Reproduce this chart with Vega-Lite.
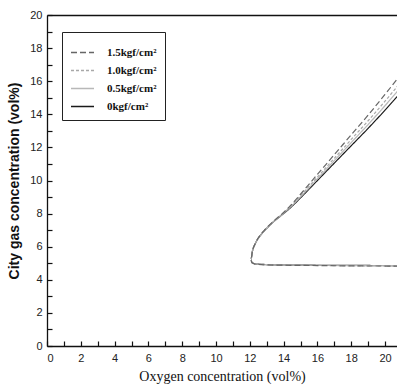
{
  "$schema": "https://vega.github.io/schema/vega-lite/v6.json",
  "autosize": {"type": "none"},
  "padding": {"left": 47, "top": 15, "right": 0, "bottom": 43},
  "width": 350,
  "height": 331,
  "background": "white",
  "config": {
    "view": {"stroke": null},
    "axis": {"domainColor": "#111", "domainWidth": 1.3, "tickColor": "#111", "tickWidth": 1.2, "grid": false,
             "labelFont": "Liberation Sans", "labelFontSize": 11, "labelColor": "#222", "labelOverlap": false}
  },
  "data": {"values": [
    {"p": "0kgf/cm²", "i": 1, "o": 21, "c": 15.4},
    {"p": "0kgf/cm²", "i": 2, "o": 20.7, "c": 15.05},
    {"p": "0kgf/cm²", "i": 3, "o": 20, "c": 14.25},
    {"p": "0kgf/cm²", "i": 4, "o": 19, "c": 13.15},
    {"p": "0kgf/cm²", "i": 5, "o": 18, "c": 12.1},
    {"p": "0kgf/cm²", "i": 6, "o": 17, "c": 11.05},
    {"p": "0kgf/cm²", "i": 7, "o": 16, "c": 10.0},
    {"p": "0kgf/cm²", "i": 8, "o": 15, "c": 8.95},
    {"p": "0kgf/cm²", "i": 9, "o": 14.4, "c": 8.35},
    {"p": "0kgf/cm²", "i": 10, "o": 14, "c": 8.0},
    {"p": "0kgf/cm²", "i": 11, "o": 13.4, "c": 7.5},
    {"p": "0kgf/cm²", "i": 12, "o": 12.9, "c": 7.0},
    {"p": "0kgf/cm²", "i": 13, "o": 12.6, "c": 6.65},
    {"p": "0kgf/cm²", "i": 14, "o": 12.33, "c": 6.2},
    {"p": "0kgf/cm²", "i": 15, "o": 12.15, "c": 5.7},
    {"p": "0kgf/cm²", "i": 16, "o": 12.07, "c": 5.24},
    {"p": "0kgf/cm²", "i": 17, "o": 12.12, "c": 5.05},
    {"p": "0kgf/cm²", "i": 18, "o": 12.35, "c": 4.96},
    {"p": "0kgf/cm²", "i": 19, "o": 13, "c": 4.92},
    {"p": "0kgf/cm²", "i": 20, "o": 14, "c": 4.9},
    {"p": "0kgf/cm²", "i": 21, "o": 16, "c": 4.88},
    {"p": "0kgf/cm²", "i": 22, "o": 18, "c": 4.87},
    {"p": "0kgf/cm²", "i": 23, "o": 21, "c": 4.86},

    {"p": "0.5kgf/cm²", "i": 1, "o": 21, "c": 15.71},
    {"p": "0.5kgf/cm²", "i": 2, "o": 20.7, "c": 15.35},
    {"p": "0.5kgf/cm²", "i": 3, "o": 20, "c": 14.52},
    {"p": "0.5kgf/cm²", "i": 4, "o": 19, "c": 13.38},
    {"p": "0.5kgf/cm²", "i": 5, "o": 18, "c": 12.29},
    {"p": "0.5kgf/cm²", "i": 6, "o": 17, "c": 11.2},
    {"p": "0.5kgf/cm²", "i": 7, "o": 16, "c": 10.1},
    {"p": "0.5kgf/cm²", "i": 8, "o": 15, "c": 9.01},
    {"p": "0.5kgf/cm²", "i": 9, "o": 14.4, "c": 8.39},
    {"p": "0.5kgf/cm²", "i": 10, "o": 14, "c": 8.02},
    {"p": "0.5kgf/cm²", "i": 11, "o": 13.4, "c": 7.5},
    {"p": "0.5kgf/cm²", "i": 12, "o": 12.9, "c": 7.0},
    {"p": "0.5kgf/cm²", "i": 13, "o": 12.6, "c": 6.65},
    {"p": "0.5kgf/cm²", "i": 14, "o": 12.33, "c": 6.2},
    {"p": "0.5kgf/cm²", "i": 15, "o": 12.15, "c": 5.7},
    {"p": "0.5kgf/cm²", "i": 16, "o": 12.07, "c": 5.24},
    {"p": "0.5kgf/cm²", "i": 17, "o": 12.12, "c": 5.05},
    {"p": "0.5kgf/cm²", "i": 18, "o": 12.35, "c": 4.96},
    {"p": "0.5kgf/cm²", "i": 19, "o": 13, "c": 4.92},
    {"p": "0.5kgf/cm²", "i": 20, "o": 14, "c": 4.9},
    {"p": "0.5kgf/cm²", "i": 21, "o": 16, "c": 4.88},
    {"p": "0.5kgf/cm²", "i": 22, "o": 18, "c": 4.86},
    {"p": "0.5kgf/cm²", "i": 23, "o": 21, "c": 4.85},

    {"p": "1.0kgf/cm²", "i": 1, "o": 21, "c": 16.02},
    {"p": "1.0kgf/cm²", "i": 2, "o": 20.7, "c": 15.65},
    {"p": "1.0kgf/cm²", "i": 3, "o": 20, "c": 14.79},
    {"p": "1.0kgf/cm²", "i": 4, "o": 19, "c": 13.61},
    {"p": "1.0kgf/cm²", "i": 5, "o": 18, "c": 12.48},
    {"p": "1.0kgf/cm²", "i": 6, "o": 17, "c": 11.34},
    {"p": "1.0kgf/cm²", "i": 7, "o": 16, "c": 10.21},
    {"p": "1.0kgf/cm²", "i": 8, "o": 15, "c": 9.08},
    {"p": "1.0kgf/cm²", "i": 9, "o": 14.4, "c": 8.43},
    {"p": "1.0kgf/cm²", "i": 10, "o": 14, "c": 8.04},
    {"p": "1.0kgf/cm²", "i": 11, "o": 13.4, "c": 7.52},
    {"p": "1.0kgf/cm²", "i": 12, "o": 12.9, "c": 7.02},
    {"p": "1.0kgf/cm²", "i": 13, "o": 12.6, "c": 6.66},
    {"p": "1.0kgf/cm²", "i": 14, "o": 12.33, "c": 6.2},
    {"p": "1.0kgf/cm²", "i": 15, "o": 12.15, "c": 5.7},
    {"p": "1.0kgf/cm²", "i": 16, "o": 12.07, "c": 5.24},
    {"p": "1.0kgf/cm²", "i": 17, "o": 12.12, "c": 5.05},
    {"p": "1.0kgf/cm²", "i": 18, "o": 12.35, "c": 4.96},
    {"p": "1.0kgf/cm²", "i": 19, "o": 13, "c": 4.91},
    {"p": "1.0kgf/cm²", "i": 20, "o": 14, "c": 4.89},
    {"p": "1.0kgf/cm²", "i": 21, "o": 16, "c": 4.87},
    {"p": "1.0kgf/cm²", "i": 22, "o": 18, "c": 4.85},
    {"p": "1.0kgf/cm²", "i": 23, "o": 21, "c": 4.84},

    {"p": "1.5kgf/cm²", "i": 1, "o": 21, "c": 16.49},
    {"p": "1.5kgf/cm²", "i": 2, "o": 20.7, "c": 16.1},
    {"p": "1.5kgf/cm²", "i": 3, "o": 20, "c": 15.2},
    {"p": "1.5kgf/cm²", "i": 4, "o": 19, "c": 13.95},
    {"p": "1.5kgf/cm²", "i": 5, "o": 18, "c": 12.76},
    {"p": "1.5kgf/cm²", "i": 6, "o": 17, "c": 11.56},
    {"p": "1.5kgf/cm²", "i": 7, "o": 16, "c": 10.37},
    {"p": "1.5kgf/cm²", "i": 8, "o": 15, "c": 9.17},
    {"p": "1.5kgf/cm²", "i": 9, "o": 14.4, "c": 8.48},
    {"p": "1.5kgf/cm²", "i": 10, "o": 14, "c": 8.07},
    {"p": "1.5kgf/cm²", "i": 11, "o": 13.4, "c": 7.54},
    {"p": "1.5kgf/cm²", "i": 12, "o": 12.9, "c": 7.04},
    {"p": "1.5kgf/cm²", "i": 13, "o": 12.6, "c": 6.67},
    {"p": "1.5kgf/cm²", "i": 14, "o": 12.33, "c": 6.21},
    {"p": "1.5kgf/cm²", "i": 15, "o": 12.15, "c": 5.7},
    {"p": "1.5kgf/cm²", "i": 16, "o": 12.07, "c": 5.24},
    {"p": "1.5kgf/cm²", "i": 17, "o": 12.12, "c": 5.05},
    {"p": "1.5kgf/cm²", "i": 18, "o": 12.35, "c": 4.95},
    {"p": "1.5kgf/cm²", "i": 19, "o": 13, "c": 4.9},
    {"p": "1.5kgf/cm²", "i": 20, "o": 14, "c": 4.88},
    {"p": "1.5kgf/cm²", "i": 21, "o": 16, "c": 4.86},
    {"p": "1.5kgf/cm²", "i": 22, "o": 18, "c": 4.84},
    {"p": "1.5kgf/cm²", "i": 23, "o": 21, "c": 4.83}
  ]},
  "layer": [
    {
      "mark": {"type": "line", "clip": true, "strokeWidth": 1.2, "interpolate": "monotone"},
      "encoding": {
        "x": {"field": "o", "type": "quantitative", "scale": {"domain": [0, 20.71], "nice": false, "zero": false},
              "axis": {"title": "Oxygen concentration (vol%)", "titleFont": "Liberation Serif", "titleFontSize": 14, "titleFontWeight": "normal", "titleColor": "#111", "titlePadding": 6,
                       "values": [0,1,2,3,4,5,6,7,8,9,10,11,12,13,14,15,16,17,18,19,20],
                       "labelExpr": "datum.value % 2 ? '' : datum.label", "ticks": true, "tickSize": -5, "labelPadding": 11,
                       "encode": {"ticks": {"update": {"y2": {"signal": "datum.value % 2 ? -3 : -5"}}}}}},
        "y": {"field": "c", "type": "quantitative", "scale": {"domain": [0, 20], "nice": false},
              "axis": {"title": "City gas concentration (vol%)", "titleFont": "Liberation Sans", "titleFontSize": 14, "titleFontWeight": "bold", "titleColor": "#111", "titlePadding": 8,
                       "values": [0,1,2,3,4,5,6,7,8,9,10,11,12,13,14,15,16,17,18,19,20],
                       "labelExpr": "datum.value % 2 ? '' : datum.label", "ticks": true, "tickSize": -5, "labelPadding": 10,
                       "encode": {"ticks": {"update": {"x2": {"signal": "datum.value % 2 ? 3 : 5"}}}}}},
        "order": {"field": "i", "type": "quantitative"},
        "color": {"field": "p", "type": "nominal",
                  "scale": {"domain": ["1.5kgf/cm²", "1.0kgf/cm²", "0.5kgf/cm²", "0kgf/cm²"], "range": ["#666666", "#a8a8a8", "#b8b8b8", "#1a1a1a"]},
                  "legend": {"title": null, "orient": "none", "legendX": 15, "legendY": 17,
                             "strokeColor": "#222", "padding": 8, "symbolType": "stroke", "symbolSize": 529, "symbolStrokeWidth": 1.3,
                             "labelFont": "Liberation Serif", "labelFontSize": 11, "labelFontWeight": "bold", "labelColor": "#111", "rowPadding": -4, "labelOffset": 12}},
        "strokeDash": {"field": "p", "type": "nominal",
                  "scale": {"domain": ["1.5kgf/cm²", "1.0kgf/cm²", "0.5kgf/cm²", "0kgf/cm²"], "range": [[6, 3], [3, 2], [1, 0], [1, 0]]},
                  "legend": null}
      }
    },
    {
      "mark": {"type": "line", "opacity": 0},
      "encoding": {
        "x": {"field": "o", "type": "quantitative", "axis": {"orient": "top", "labels": false, "ticks": false, "title": null, "domain": true}}
      }
    }
  ],
  "resolve": {"axis": {"x": "independent"}}
}
